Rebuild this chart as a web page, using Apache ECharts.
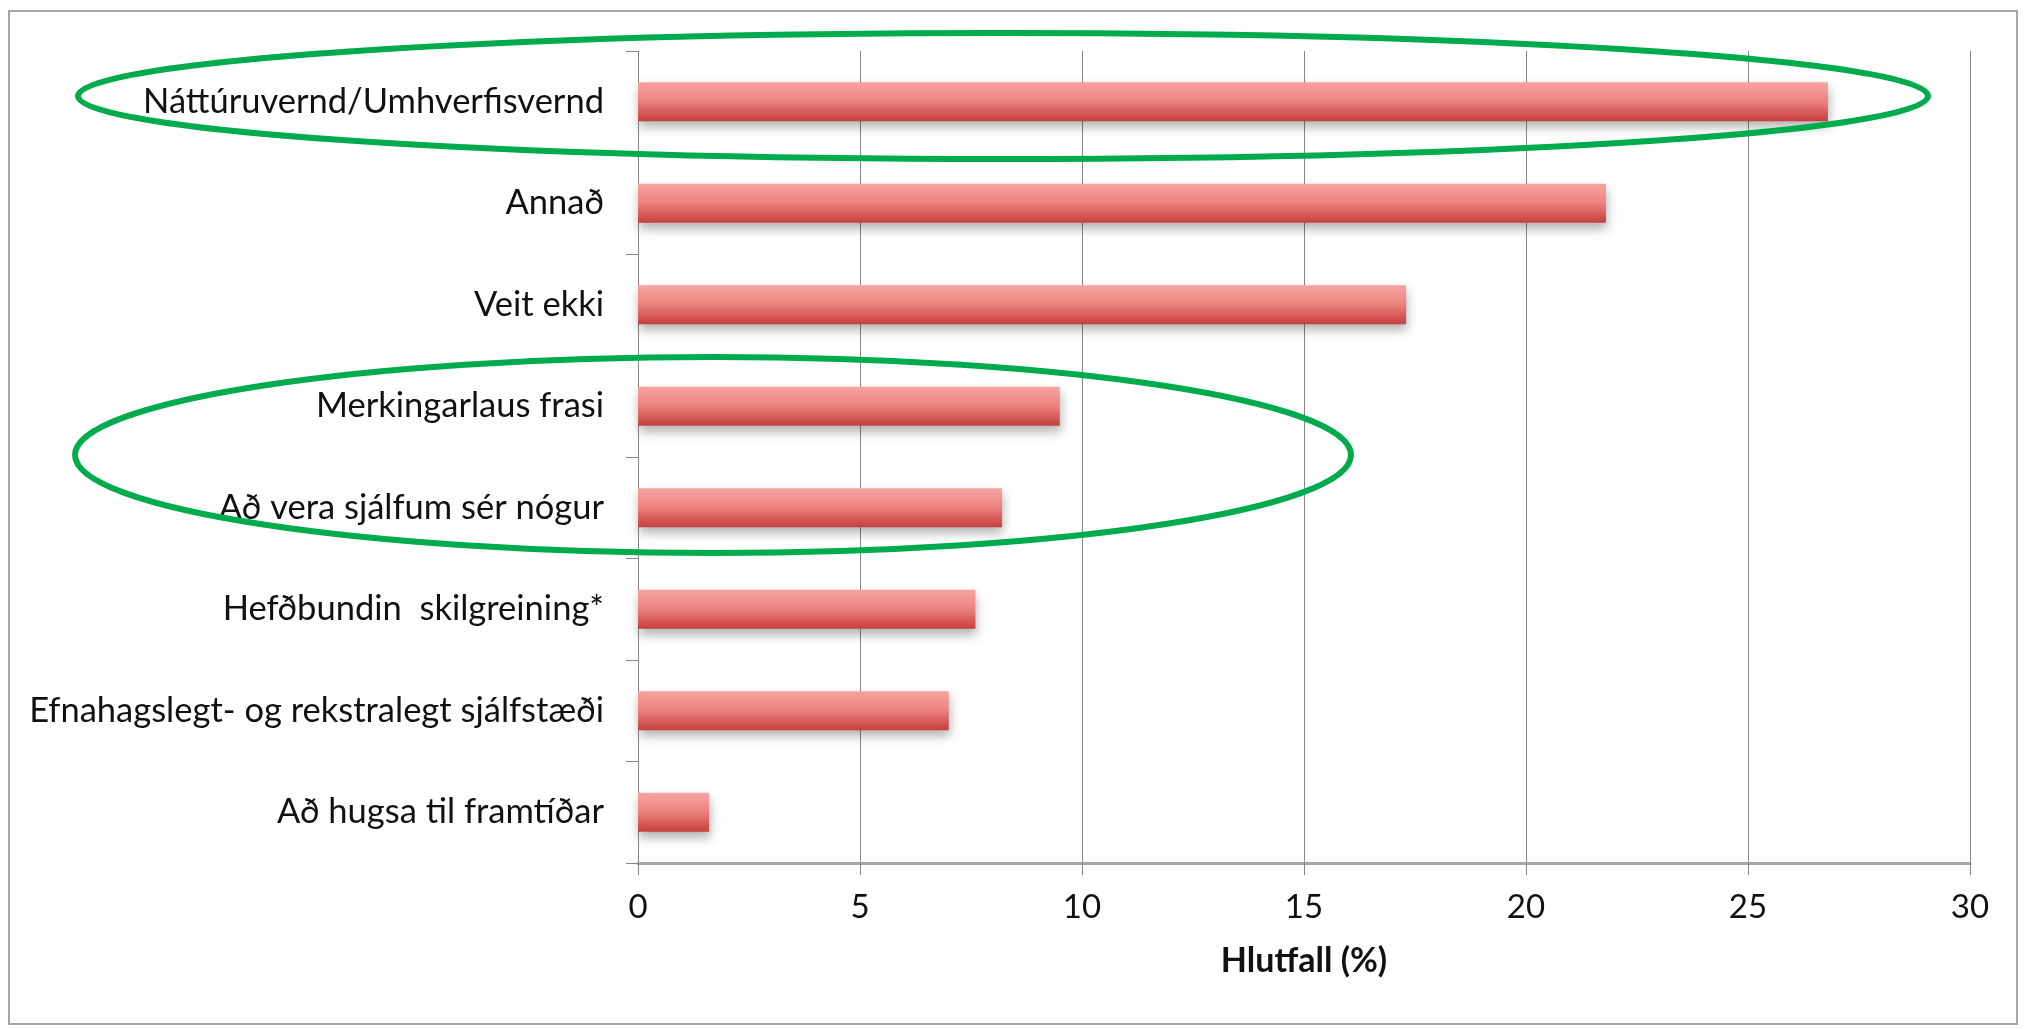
<!DOCTYPE html>
<html>
<head>
<meta charset="utf-8">
<script src="https://cdn.jsdelivr.net/npm/echarts@6/dist/echarts.min.js"></script>
<style>
html,body{margin:0;padding:0;background:#fff;}
#chart{width:2025px;height:1029px;}
</style>
</head>
<body>
<div id="chart"></div>
<script>
const categories = [
  "Náttúruvernd/Umhverfisvernd",
  "Annað",
  "Veit ekki",
  "Merkingarlaus frasi",
  "Að vera sjálfum sér nógur",
  "Hefðbundin  skilgreining*",
  "Efnahagslegt- og rekstralegt sjálfstæði",
  "Að hugsa til framtíðar"
];
const values = [26.8, 21.8, 17.3, 9.5, 8.2, 7.6, 7.0, 1.6];
const xTicks = [0, 5, 10, 15, 20, 25, 30];
const axisTitle = "Hlutfall (%)";

const chart = echarts.init(document.getElementById('chart'), null, {renderer: 'canvas'});
const FONT = 'Lato';
chart.setOption({
  backgroundColor: '#ffffff',
  animation: false,
  grid: {left: 638, right: 55, top: 51, bottom: 166, containLabel: false},
  xAxis: {
    type: 'value',
    min: xTicks[0],
    max: xTicks[xTicks.length - 1],
    interval: xTicks[1] - xTicks[0],
    name: axisTitle,
    nameLocation: 'middle',
    nameGap: 81,
    nameTextStyle: {fontFamily: FONT, fontWeight: 'bold', fontSize: 34, color: '#111'},
    axisLine: {show: true, lineStyle: {color: '#a6a6a6', width: 3}},
    axisTick: {show: true, length: 12, lineStyle: {color: '#868686', width: 1}},
    axisLabel: {fontFamily: FONT, fontSize: 33, color: '#111', margin: 28},
    splitLine: {show: true, lineStyle: {color: '#868686', width: 1}}
  },
  yAxis: {
    type: 'category',
    data: categories,
    inverse: true,
    axisLine: {show: true, lineStyle: {color: '#868686', width: 1}},
    axisTick: {show: true, length: 12, lineStyle: {color: '#868686', width: 1}},
    axisLabel: {fontFamily: FONT, fontSize: 34.5, color: '#111', margin: 34},
    splitLine: {show: false}
  },
  series: [{
    type: 'bar',
    data: values,
    barWidth: 39,
    itemStyle: {
      color: new echarts.graphic.LinearGradient(0, 0, 0, 1, [
        {offset: 0, color: '#f7a3a0'},
        {offset: 0.45, color: '#ee8682'},
        {offset: 1, color: '#c63f3d'}
      ]),
      shadowColor: 'rgba(0,0,0,0.3)',
      shadowBlur: 10,
      shadowOffsetY: 6,
      shadowOffsetX: 1
    }
  }],
  graphic: [
    {type: 'rect', shape: {x: 9, y: 11, width: 2008, height: 1013}, style: {fill: 'none', stroke: '#a6a6a6', lineWidth: 2}, z: 100},
    {type: 'ellipse', shape: {cx: 1003, cy: 96, rx: 925, ry: 63}, style: {fill: 'none', stroke: '#00ab4e', lineWidth: 6}, z: 100},
    {type: 'ellipse', shape: {cx: 713, cy: 455, rx: 638, ry: 98}, style: {fill: 'none', stroke: '#00ab4e', lineWidth: 6}, z: 100}
  ]
});
</script>
</body>
</html>
